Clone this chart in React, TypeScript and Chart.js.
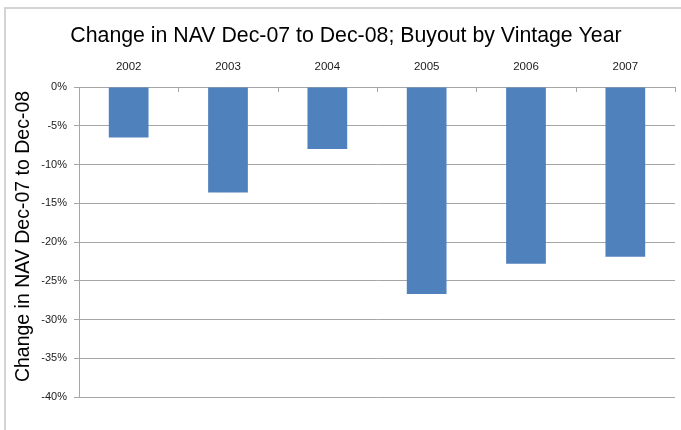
import React, { useEffect, useRef } from 'react';
import { Chart, registerables } from 'chart.js';

Chart.register(...registerables);

const categories = ['2002', '2003', '2004', '2005', '2006', '2007'];
const navChange = [-6.5, -13.6, -8.0, -26.7, -22.8, -21.9];
const yMin = -40;
const yMax = 0;
const yStep = 5;
const chartTitle = 'Change in NAV Dec-07 to Dec-08; Buyout by Vintage Year';
const yAxisTitle = 'Change in NAV Dec-07 to Dec-08';

const FONT = '"Liberation Sans", Arial, sans-serif';
const GRID = '#a6a6a6';

const categoryTickMarks = {
  id: 'categoryTickMarks',
  afterDraw(chart: any) {
    const xs = chart.scales.x;
    const ys = chart.scales.y;
    const ctx = chart.ctx;
    const y0 = Math.round(ys.getPixelForValue(0));
    const n = xs.ticks.length;
    ctx.save();
    ctx.strokeStyle = GRID;
    ctx.lineWidth = 1;
    for (let i = 0; i <= n; i++) {
      const px = Math.round(xs.left + (i * xs.width) / n) + 0.5;
      ctx.beginPath();
      ctx.moveTo(px, y0);
      ctx.lineTo(px, y0 + 5);
      ctx.stroke();
    }
    ctx.restore();
  },
};

const yTitlePlugin = {
  id: 'yTitlePlugin',
  afterDraw(chart: any) {
    const ys = chart.scales.y;
    const ctx = chart.ctx;
    const cy = (ys.top + ys.bottom) / 2 - 5.5;
    ctx.save();
    ctx.translate(ys.left + 7, cy);
    ctx.rotate(-Math.PI / 2);
    ctx.textAlign = 'center';
    ctx.textBaseline = 'middle';
    ctx.fillStyle = '#000';
    ctx.font = `normal 19.5px ${FONT}`;
    ctx.fillText(yAxisTitle, 0, 0);
    ctx.restore();
  },
};

export default function App() {
  const ref = useRef<HTMLCanvasElement | null>(null);

  useEffect(() => {
    if (!ref.current) return;
    const chart = new Chart(ref.current, {
      type: 'bar',
      data: {
        labels: categories,
        datasets: [
          {
            data: navChange,
            backgroundColor: '#4F81BD',
            borderWidth: 0,
            categoryPercentage: 1,
            barPercentage: 0.4,
          },
        ],
      },
      options: {
        responsive: false,
        animation: false,
        devicePixelRatio: 1,
        layout: { padding: { left: 17, right: 6, top: 0, bottom: 33 } },
        plugins: {
          legend: { display: false },
          tooltip: { enabled: false },
          title: {
            display: true,
            text: chartTitle,
            color: '#000',
            font: { family: FONT, size: 21.3, weight: 'normal', lineHeight: 1.2 },
            padding: { top: 23, bottom: 0 },
          },
        },
        scales: {
          x: {
            position: 'top',
            grid: { display: false, drawTicks: false },
            border: { display: true, color: GRID, width: 1 },
            ticks: {
              color: '#1a1a1a',
              font: { family: FONT, size: 11.5 },
              padding: 13,
              maxRotation: 0,
            },
            afterFit: (scale: any) => {
              scale.height = 87 - (23 + 21.3 * 1.2);
            },
          },
          y: {
            min: yMin,
            max: yMax,
            grid: { color: GRID, lineWidth: 1, drawTicks: true, tickLength: 5 },
            border: { display: true, color: GRID, width: 1 },
            ticks: {
              stepSize: yStep,
              color: '#1a1a1a',
              font: { family: FONT, size: 11 },
              padding: 7,
              callback: (v: any) => `${v}%`,
            },
            title: { display: false, text: yAxisTitle },
            afterFit: (scale: any) => {
              scale.width = 62;
            },
          },
        },
      },
      plugins: [categoryTickMarks, yTitlePlugin],
    } as any);
    return () => chart.destroy();
  }, []);

  return (
    <div
      style={{
        position: 'absolute',
        left: 0,
        top: 0,
        width: 681,
        height: 430,
        overflow: 'hidden',
        background: '#fff',
      }}
    >
      <div
        style={{
          position: 'absolute',
          left: 4,
          top: 7,
          width: 800,
          height: 600,
          borderLeft: '2px solid #d4d4d4',
          borderTop: '2px solid #d4d4d4',
        }}
      />
      <canvas
        ref={ref}
        width={681}
        height={430}
        style={{ position: 'absolute', left: 0, top: 0, display: 'block' }}
      />
    </div>
  );
}
